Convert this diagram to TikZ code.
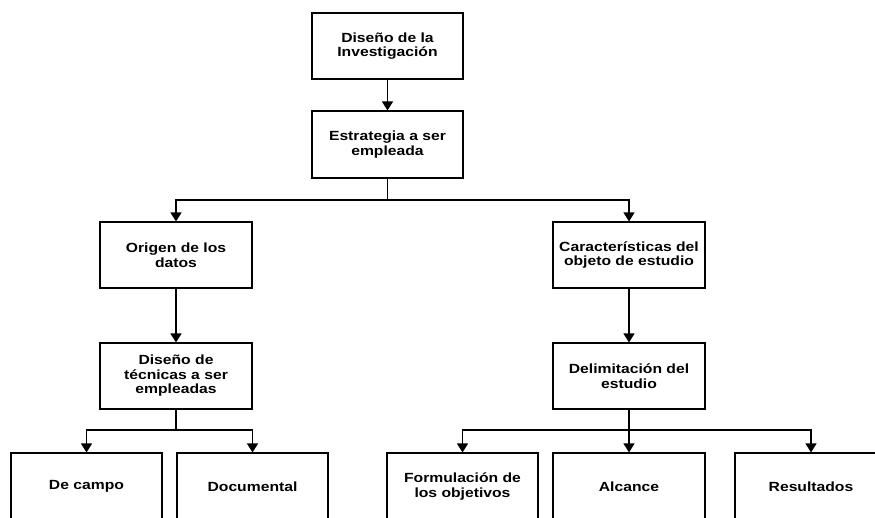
\documentclass[tikz,border=0pt]{standalone}
\usepackage{fontspec}
\setmainfont[FakeStretch=1.18]{Liberation Sans}
\usetikzlibrary{arrows.meta}
\tikzset{
  box/.style={draw=black, line width=1.1pt, rectangle, minimum width=152pt, minimum height=66pt,
    align=center, inner sep=2pt, font=\bfseries\fontsize{13.3pt}{14.5pt}\selectfont},
  link/.style={line width=1.1pt, draw=black},
  arr/.style={link, -{Triangle[width=11pt,length=9pt]}}
}
\begin{document}
\begin{tikzpicture}[x=1pt,y=-1pt]
\useasboundingbox (0,0) rectangle (875,517);
\fill[white] (0,0) rectangle (875,517);
\clip (0,0) rectangle (875,517);
\node[box, minimum width=151pt] (dis) at (387.5,46) {Diseño de la\\Investigación};
\node[box, minimum width=151pt, minimum height=67pt] (est) at (387.5,144.5) {Estrategia a ser\\empleada};
\node[box] (ori) at (176,255) {Origen de los\\datos};
\node[box] (car) at (629,255) {Características del\\objeto de estudio};
\node[box] (tec) at (176,376) {Diseño de\\técnicas a ser\\empleadas};
\node[box] (del) at (629,376) {Delimitación del\\estudio};
\node[box, minimum width=151pt, minimum height=67pt] (cam) at (86.5,486.5) {De campo};
\node[box, minimum width=151pt, minimum height=67pt] (doc) at (252.5,486.5) {Documental};
\node[box, minimum width=151pt, minimum height=67pt] (for) at (462.5,486.5) {Formulación de\\los objetivos};
\node[box, minimum height=67pt] (alc) at (629,486.5) {Alcance};
\node[box, minimum height=67pt] (res) at (811,486.5) {Resultados};
\coordinate (j1) at (387.5,200);
\coordinate (j2) at (176,430);
\coordinate (j3) at (629,430);
\draw[arr] (dis) -- (est);
\draw[link] (est) -- (j1);
\draw[arr] (j1) -| (ori);
\draw[arr] (j1) -| (car);
\draw[arr] (ori) -- (tec);
\draw[arr] (car) -- (del);
\draw[link] (tec) -- (j2);
\draw[arr] (j2) -| (cam);
\draw[arr] (j2) -| (doc);
\draw[link] (del) -- (j3);
\draw[arr] (j3) -| (for);
\draw[arr] (j3) -- (alc);
\draw[arr] (j3) -| (res);
\end{tikzpicture}
\end{document}
